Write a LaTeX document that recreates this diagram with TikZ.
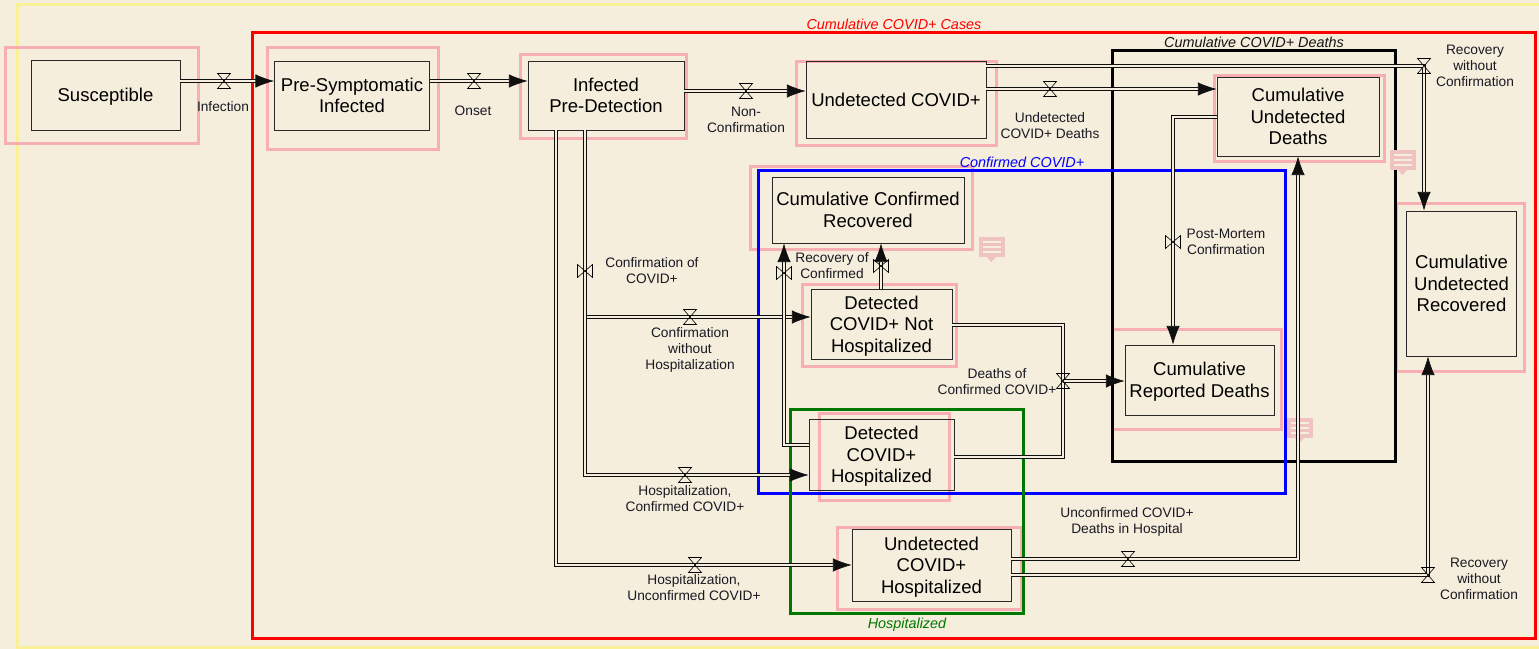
\documentclass[tikz,border=0pt]{standalone}
\usepackage{fontspec}
\setmainfont{Liberation Sans}
\usetikzlibrary{arrows.meta}

\tikzset{every picture/.style={line width=0.75pt}}
\tikzset{
  stock/.style 2 args={draw={rgb, 255:red, 40; green, 40; blue, 40 },line width=0.55pt,align=center,inner sep=0pt,text depth=0pt,minimum width=#1*0.75pt,minimum height=#2*0.75pt,font=\fontsize{13.9}{16.1}\selectfont},
  small/.style={align=center,inner sep=0pt,text depth=0pt,text={rgb, 255:red, 25; green, 25; blue, 35 },font=\fontsize{10.3}{12}\selectfont},
  frametext/.style={inner sep=0pt,text depth=0pt,font=\fontsize{10.8}{12}\selectfont\itshape},
  pink/.style={draw={rgb, 255:red, 248; green, 175; blue, 180 },line width=2.25pt},
  frame/.style={line width=2.25pt},
  pipe/.style={draw={rgb, 255:red, 15; green, 15; blue, 15 },line width=0.5pt,double={rgb, 255:red, 245; green, 238; blue, 220 },double distance=1.7pt},
  tip/.style={-{Latex[length=14pt,width=10pt]}},
  valveh/.pic={\draw [line width=0.45pt] (-6.5,-7.5) -- (6.5,-7.5) -- (-6.5,7.5) -- (6.5,7.5) -- cycle ;},
  valvev/.pic={\draw [line width=0.45pt] (-7.5,-6.5) -- (-7.5,6.5) -- (7.5,-6.5) -- (7.5,6.5) -- cycle ;},
  bubble/.pic={
    \fill [color={rgb, 255:red, 240; green, 195; blue, 195 }] (-13,-10) rectangle (13,10) ;
    \fill [color={rgb, 255:red, 240; green, 195; blue, 195 }] (-5,-10) -- (-1,-15) -- (4,-10) -- cycle ;
    \foreach \yy in {-5,0,5} {\draw [color={rgb, 255:red, 245; green, 238; blue, 220 },line width=1pt] (-9,\yy) -- (9,\yy) ;}
  }
}

\begin{document}
\begin{tikzpicture}[x=0.75pt,y=0.75pt,yscale=-1,xscale=1]
\useasboundingbox (0,0) rectangle (1539,649);
\fill [color={rgb, 255:red, 245; green, 238; blue, 220 }] (0,0) rectangle (1539,649);

%Shape: Rectangle outer frames
\draw [frame,color={rgb, 255:red, 250; green, 240; blue, 150 }] (17,5) rectangle (1545,647);
\draw [frame,color={rgb, 255:red, 255; green, 0; blue, 0 }] (252,32.5) rectangle (1535,638);

%Shape: Rectangle highlights
\draw [pink] (5,47.5) rectangle (198,144);
\draw [pink] (267,47.5) rectangle (438.5,150);
\draw [pink] (520,55) rectangle (686,139);
\draw [pink] (796,62) rectangle (996,146);
\draw [pink] (1214,76) rectangle (1384,162);
\draw [pink] (750,167) rectangle (972,249);
\draw [pink] (802,284) rectangle (956,366);
\draw [pink] (1112,329) rectangle (1281,429);
\draw [pink] (819,413) rectangle (949,500);
\draw [pink] (837,527) rectangle (1021,609);
\draw [pink] (1396,204) rectangle (1524,371);

%Shape: Rectangle group frames
\draw [frame,color={rgb, 255:red, 0; green, 0; blue, 0 }] (1112,51) rectangle (1395,461);
\draw [frame,color={rgb, 255:red, 0; green, 0; blue, 255 }] (758,171) rectangle (1285,493);
\draw [frame,color={rgb, 255:red, 0; green, 120; blue, 0 }] (790,409) rectangle (1023,613);

%Shape: comment marks
\pic at (992,247) {bubble};
\pic at (1403,160) {bubble};
\pic at (1300,428) {bubble};

% Stocks
\draw (105.5,95) node [stock={149}{70}] (susceptible) {Susceptible};
\draw (352,95.5) node [stock={155}{69}] (preSymptomatic) {Pre-Symptomatic\\Infected};
\draw (606,95.5) node [stock={156}{69}] (infected) {Infected\\Pre-Detection};
\draw (896,99.5) node [stock={180}{77}] (undetected) {Undetected COVID+};
\draw (1298,116.5) node [stock={162}{79}] (cumUndetDeaths) {Cumulative\\Undetected\\Deaths};
\draw (868,210) node [stock={192}{66}] (cumConfRecovered) {Cumulative Confirmed\\Recovered};
\draw (881.5,324) node [stock={141}{70}] (detNotHosp) {Detected\\COVID+ Not\\Hospitalized};
\draw (1199.5,380) node [stock={149}{70}] (cumRepDeaths) {Cumulative\\Reported Deaths};
\draw (881.5,454.5) node [stock={145}{71}] (detHosp) {Detected\\COVID+\\Hospitalized};
\draw (931.5,565) node [stock={159}{72}] (undetHosp) {Undetected\\COVID+\\Hospitalized};
\draw (1461.5,283.5) node [stock={110}{145}] (cumUndetRecovered) {Cumulative\\Undetected\\Recovered};

% Valves and corners
\coordinate (vInfection) at (224,81);
\coordinate (vOnset) at (474,81);
\coordinate (vNonConf) at (746,91);
\coordinate (vUndetDeaths) at (1050,89);
\coordinate (vRecoveryTop) at (1424,66);
\coordinate (vPostMortem) at (1173,242);
\coordinate (vConfirm) at (585,271);
\coordinate (vConfNoHosp) at (690,317);
\coordinate (vHospConf) at (685,475);
\coordinate (vHospUnconf) at (695,565);
\coordinate (vRecoveryHosp) at (784,273);
\coordinate (vRecoveryDet) at (881,266);
\coordinate (vDeathsConf) at (1063,381);
\coordinate (vUnconfDeaths) at (1128,559);
\coordinate (vRecoveryLow) at (1428,575);
\coordinate (cPostMortem) at (1173,117);
\coordinate (cConfirm) at (585,475);
\coordinate (cConfBranch) at (586.5,317);
\coordinate (cUnconf) at (556,565);
\coordinate (cRecovery) at (784,445);
\coordinate (cDeathsTop) at (1063,325);
\coordinate (cDeathsLow) at (1063,457);
\coordinate (cUnconfDeaths) at (1298,559);

%Straight Lines
\draw [pipe,tip] (susceptible.east |- vInfection) -- (preSymptomatic.west |- vInfection) ;
\draw [pipe,tip] (preSymptomatic.east |- vOnset) -- (infected.west |- vOnset) ;
\draw [pipe,tip] (infected.east |- vNonConf) -- (undetected.west |- vNonConf) ;
\draw [pipe,tip] (undetected.east |- vUndetDeaths) -- (cumUndetDeaths.west |- vUndetDeaths) ;
\draw [pipe,tip] (undetected.east |- vRecoveryTop) -- (vRecoveryTop) -- (vRecoveryTop |- cumUndetRecovered.north) ;
\draw [pipe,tip] (cumUndetDeaths.west |- cPostMortem) -- (cPostMortem) -- (cPostMortem |- cumRepDeaths.north) ;
\draw [pipe,tip] (infected.south -| cConfirm) -- (cConfirm) -- (detHosp.west |- cConfirm) ;
\draw [pipe,tip] (cConfBranch) -- (detNotHosp.west |- cConfBranch) ;
\draw [pipe,tip] (infected.south -| cUnconf) -- (cUnconf) -- (undetHosp.west |- cUnconf) ;
\draw [pipe,tip] (detHosp.west |- cRecovery) -- (cRecovery) -- (cRecovery |- cumConfRecovered.south) ;
\draw [pipe,tip] (detNotHosp.north -| vRecoveryDet) -- (vRecoveryDet |- cumConfRecovered.south) ;
\draw [pipe] (detNotHosp.east |- cDeathsTop) -- (cDeathsTop) -- (cDeathsLow) -- (detHosp.east |- cDeathsLow) ;
\draw [pipe,tip] (vDeathsConf) -- (cumRepDeaths.west |- vDeathsConf) ;
\draw [pipe,tip] (undetHosp.east |- cUnconfDeaths) -- (cUnconfDeaths) -- (cUnconfDeaths |- cumUndetDeaths.south) ;
\draw [pipe,tip] (undetHosp.east |- vRecoveryLow) -- (vRecoveryLow) -- (vRecoveryLow |- cumUndetRecovered.south) ;

%Shape: valve marks
\foreach \vname in {vInfection,vOnset,vNonConf,vUndetDeaths,vRecoveryTop,vConfNoHosp,vHospConf,vHospUnconf,vDeathsConf,vUnconfDeaths,vRecoveryLow}
  {\pic at (\vname) {valveh};}
\foreach \vname in {vPostMortem,vConfirm,vRecoveryHosp,vRecoveryDet}
  {\pic at (\vname) {valvev};}

% Text Node
\draw (223,106.5) node [small] (lblInfection) {Infection};
\draw (473,110.5) node [small] (lblOnset) {Onset};
\draw (746,120) node [small] (lblNonConf) {Non-\\Confirmation};
\draw (1050,126) node [small] (lblUndetDeaths) {Undetected\\COVID+ Deaths};
\draw (1475,66) node [small] (lblRecoveryTop) {Recovery\\without\\Confirmation};
\draw (1226,242) node [small] (lblPostMortem) {Post-Mortem\\Confirmation};
\draw (652,271) node [small] (lblConfirm) {Confirmation of\\COVID+};
\draw (832,266) node [small] (lblRecoveryConf) {Recovery of\\Confirmed};
\draw (690,349) node [small] (lblConfNoHosp) {Confirmation\\without\\Hospitalization};
\draw (997,382) node [small] (lblDeathsConf) {Deaths of\\Confirmed COVID+};
\draw (685,499) node [small] (lblHospConf) {Hospitalization,\\Confirmed COVID+};
\draw (1127,521) node [small] (lblUnconfDeaths) {Unconfirmed COVID+\\Deaths in Hospital};
\draw (694,588) node [small] (lblHospUnconf) {Hospitalization,\\Unconfirmed COVID+};
\draw (1479,579) node [small] (lblRecoveryLow) {Recovery\\without\\Confirmation};

% Text Node
\draw (894,24) node [frametext,color={rgb, 255:red, 255; green, 0; blue, 0 }] (lblCases) {Cumulative COVID+ Cases};
\draw (1254,42) node [frametext,color={rgb, 255:red, 20; green, 20; blue, 20 }] (lblDeaths) {Cumulative COVID+ Deaths};
\draw (1022,162) node [frametext,color={rgb, 255:red, 0; green, 0; blue, 255 }] (lblConfirmed) {Confirmed COVID+};
\draw (907,623) node [frametext,color={rgb, 255:red, 0; green, 120; blue, 0 }] (lblHospitalized) {Hospitalized};

\end{tikzpicture}
\end{document}
